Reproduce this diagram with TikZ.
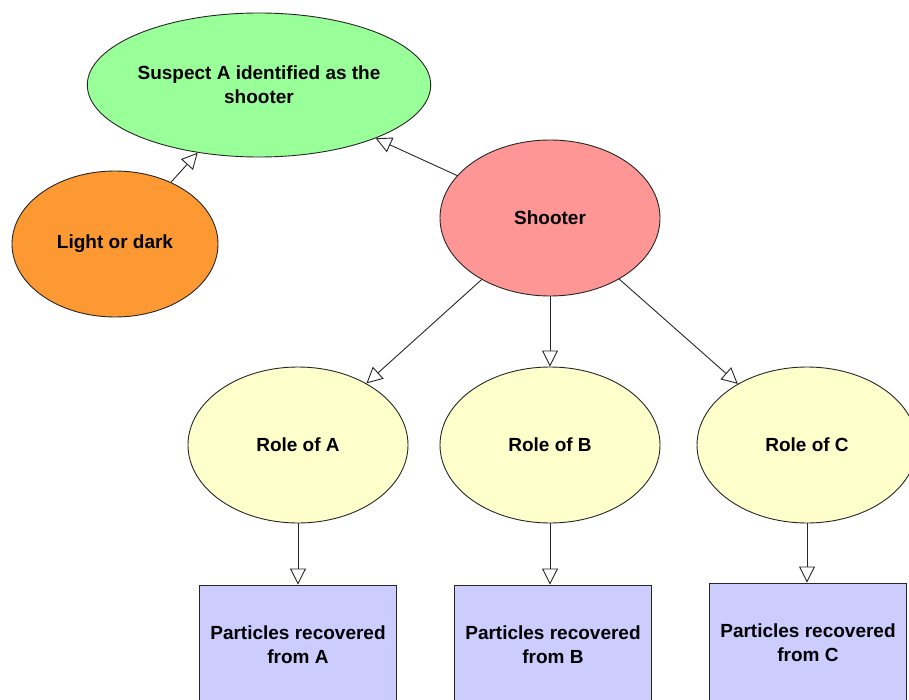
\documentclass[tikz,border=0pt]{standalone}
\usepackage{xcolor}
\usepackage{fontspec}
\setmainfont{Liberation Sans}
\usepackage{tikz}
\usetikzlibrary{shapes.geometric,arrows.meta}

\definecolor{suspectgreen}{RGB}{153,255,153}
\definecolor{lightorange}{RGB}{253,153,51}
\definecolor{shooterpink}{RGB}{255,150,150}
\definecolor{roleyellow}{RGB}{255,255,204}
\definecolor{partblue}{RGB}{204,204,255}

\begin{document}
\begin{tikzpicture}[
  x=1pt, y=-1pt,
  belief/.style={draw=black!85, ellipse, line width=0.9pt, inner sep=0pt, fill=#1,
    font=\fontsize{19}{24}\selectfont\bfseries, align=center},
  evid/.style={draw=black!85, rectangle, line width=0.9pt, inner sep=0pt, fill=partblue,
    minimum width=197pt, minimum height=120pt,
    font=\fontsize{19}{24}\selectfont\bfseries, align=center},
  arr/.style={-{Triangle[length=16pt, width=16pt, fill=white]}, line width=0.9pt, draw=black!85}
]
  \useasboundingbox (0,0) rectangle (909,700);

  % ===== TOP =====
  \node[belief=suspectgreen, minimum width=332pt, minimum height=144pt] (suspect) at (259,85) {Suspect A identified as the\\shooter};
  \node[belief=lightorange, minimum width=206pt, minimum height=146pt] (light) at (115,244) {Light or dark};
  \node[belief=shooterpink, minimum width=220pt, minimum height=156pt] (shooter) at (550,218) {Shooter};

  % roles
  \node[belief=roleyellow, minimum width=220pt, minimum height=156pt] (roleA) at (298,445) {Role of A};
  \node[belief=roleyellow, minimum width=220pt, minimum height=156pt] (roleB) at (550,445) {Role of B};
  \node[belief=roleyellow, minimum width=220pt, minimum height=156pt] (roleC) at (807,445) {Role of C};

  % particles
  \node[evid] (partA) at (298,645) {Particles recovered\\from A};
  \node[evid] (partB) at (553,645) {Particles recovered\\from B};
  \node[evid] (partC) at (808,643) {Particles recovered\\from C};

  \draw[arr] (light) -- (suspect);
  \draw[arr] (shooter) -- (suspect);
  \draw[arr] (shooter) -- (roleA);
  \draw[arr] (shooter) -- (roleB);
  \draw[arr] (shooter) -- (roleC);
  \draw[arr] (roleA) -- (roleA |- partA.north);
  \draw[arr] (roleB) -- (roleB |- partB.north);
  \draw[arr] (roleC) -- (roleC |- partC.north);
\end{tikzpicture}
\end{document}
